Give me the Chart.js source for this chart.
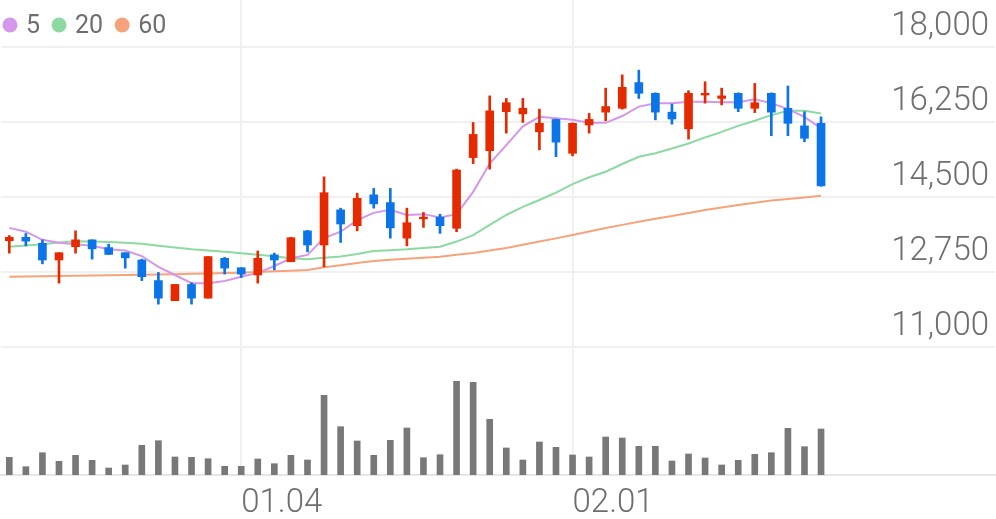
<!DOCTYPE html>
<html>
<head>
<meta charset="utf-8" />
<title>Price Chart</title>
<script src="https://cdn.jsdelivr.net/npm/chart.js@4.4.1/dist/chart.umd.min.js"></script>
<style>
    html, body { margin: 0; padding: 0; background: #ffffff; }
    .chartContainer { width: 996px; height: 519px; position: relative; }
</style>
</head>
<body>
<div class="chartContainer"><canvas id="myChart"></canvas></div>
<script>
// trading days shown on the chart (MM.DD)
const dates = ['12.10','12.11','12.14','12.15','12.16','12.17','12.18','12.21','12.22','12.23',
               '12.24','12.28','12.29','12.30','01.04','01.05','01.06','01.07','01.08','01.11',
               '01.12','01.13','01.14','01.15','01.18','01.19','01.20','01.21','01.22','01.25',
               '01.26','01.27','01.28','01.29','02.01','02.02','02.03','02.04','02.05','02.08',
               '02.09','02.10','02.15','02.16','02.17','02.18','02.19','02.22','02.23','02.24'];
const emptySlots = 10;
const tickLabels = ['01.04', '02.01'];
const priceTicks = [11000, 12750, 14500, 16250, 18000];

const opens  = [13480,13560,13420,13030,13340,13500,13320,13200,13030,12550,
                12080,12460,12140,13070,12850,12680,13150,12990,13710,13380,
                14200,13830,14550,14370,13540,13990,14030,13770,15420,15580,
                16490,16440,16020,16310,15520,16180,16480,16570,17170,16920,
                16480,16090,16880,16800,16920,16570,16920,16570,16160,16220];
const closes = [13560,13470,13030,13200,13500,13290,13160,13080,12640,12140,
                12460,12140,13110,12840,12700,13070,13030,13550,13380,14600,
                13870,14470,14340,13780,13900,14030,13830,15130,15960,16510,
                16700,16570,16220,15780,16220,16310,16610,17060,16920,16480,
                16320,16920,16920,16860,16570,16700,16480,16220,15870,14760];
const highs  = [13600,13650,13500,13200,13710,13500,13400,13200,13050,12740,
                12460,12500,13110,13090,12850,13240,13190,13560,13720,14970,
                14240,14590,14700,14700,14240,14140,14100,15150,16240,16860,
                16800,16800,16550,16320,16230,16450,17040,17350,17460,16930,
                16670,16980,17190,17040,16930,17150,16930,17090,16490,16370];
const lows   = [13190,13360,12940,12490,13190,13050,13160,12840,12550,12000,
                12080,12000,12140,12700,12620,12490,12800,12990,13220,12870,
                13440,13710,14240,13540,13360,13790,13650,13690,15280,15150,
                15990,16240,15600,15440,15460,15990,16280,16550,16800,16300,
                16200,15850,16690,16650,16490,16470,15930,15930,15790,14750];

// moving averages
const ma5  = [13780,13690,13500,13430,13400,13360,13280,13250,13120,12870,
              12680,12490,12490,12540,12640,12730,12890,13070,13150,13540,
              13690,13960,14130,14200,14080,14100,14020,14100,14620,15280,
              15710,16150,16370,16340,16300,16230,16230,16390,16610,16690,
              16690,16720,16720,16710,16710,16780,16690,16550,16370,16100];
const ma20 = [13340,13370,13400,13440,13470,13460,13450,13430,13410,13360,
              13320,13280,13250,13220,13190,13150,13120,13070,13050,13080,
              13110,13170,13240,13260,13280,13310,13340,13460,13610,13850,
              14080,14270,14430,14600,14800,14960,15090,15270,15440,15520,
              15630,15750,15890,16020,16160,16280,16410,16510,16510,16450];
const ma60 = [12640,12645,12650,12655,12660,12668,12675,12682,12688,12694,
              12700,12708,12716,12724,12733,12750,12766,12780,12797,12860,
              12910,12960,13007,13035,13060,13085,13107,13150,13193,13250,
              13310,13385,13460,13535,13613,13695,13777,13850,13923,13990,
              14057,14127,14197,14255,14313,14367,14420,14455,14490,14530];
const maNames  = ['5', '20', '60'];

// volume (thousand shares)
const volumes = [177, 83,223,137,197,147, 70,100,297,343,
                 180,177,163, 87, 87,160,113,197,150,797,
                 483,340,197,347,470,173,203,937,927,557,
                 270,150,330,277,200,180,380,370,287,287,
                 140,210,170,100,147,207,223,467,283,460];

const upColor = '#e52a00';
const downColor = '#0b74e8';
const maColors = ['#d497ea', '#8cd9a2', '#f6a37c'];
const textColor = '#6e6e6e';
const gridColor = '#f0f0f0';

const labels = dates.concat(new Array(emptySlots).fill(''));
const candleColors = opens.map((o, i) => closes[i] >= o ? upColor : downColor);

const legendPlugin = {
    id: 'maLegend',
    afterDraw(chart) {
        const ctx = chart.ctx;
        ctx.save();
        ctx.font = '400 25px Roboto';
        ctx.textBaseline = 'middle';
        let x = 10;
        maNames.forEach((name, i) => {
            ctx.fillStyle = maColors[i];
            ctx.beginPath();
            ctx.arc(x, 25, 7.5, 0, Math.PI * 2);
            ctx.fill();
            ctx.fillStyle = textColor;
            ctx.fillText(name, x + 16, 27);
            x += 16 + ctx.measureText(name).width + 19;
        });
        ctx.restore();
    }
};

var ctx = document.getElementById('myChart').getContext('2d');
var chart = new Chart(ctx, {
    type: 'bar',
    data: {
        labels: labels,
        datasets: [
            {
                label: 'body',
                data: opens.map((o, i) => [o, closes[i]]),
                backgroundColor: candleColors,
                barThickness: 8,
                grouped: false,
                order: 0
            },
            {
                label: 'wick',
                data: lows.map((l, i) => [l, highs[i]]),
                backgroundColor: candleColors,
                barThickness: 2,
                grouped: false,
                order: 1
            },
            { type: 'line', label: maNames[0], data: ma5, borderColor: maColors[0], borderWidth: 2, pointRadius: 0, order: 2 },
            { type: 'line', label: maNames[1], data: ma20, borderColor: maColors[1], borderWidth: 2, pointRadius: 0, order: 2 },
            { type: 'line', label: maNames[2], data: ma60, borderColor: maColors[2], borderWidth: 2, pointRadius: 0, order: 2 },
            {
                label: 'volume',
                data: volumes,
                yAxisID: 'yv',
                backgroundColor: '#787878',
                barThickness: 6,
                grouped: false,
                order: 3
            }
        ]
    },
    options: {
        responsive: true,
        maintainAspectRatio: false,
        animation: false,
        layout: { padding: { left: 1, right: 0, top: 0, bottom: 0 } },
        plugins: { legend: { display: false }, tooltip: { enabled: false } },
        scales: {
            x: {
                offset: true,
                grid: { offset: false, color: gridColor, lineWidth: 2, drawTicks: false },
                border: { display: true, color: '#e6e6e6', width: 2 },
                ticks: {
                    align: 'start', autoSkip: false, maxRotation: 0, padding: 9,
                    color: textColor, font: { family: 'Roboto', size: 33, weight: '300' }
                },
                afterBuildTicks: s => { s.ticks = s.ticks.filter(t => tickLabels.includes(labels[t.value])); },
                afterFit: s => { s.height = 44; s.paddingLeft = 0; s.paddingRight = 0; }
            },
            y: {
                position: 'right',
                min: 8013,
                max: 19097,
                afterBuildTicks: s => { s.ticks = priceTicks.map(v => ({ value: v })); },
                grid: { color: gridColor, lineWidth: 2, drawTicks: false },
                border: { display: false },
                ticks: {
                    mirror: true, padding: -6, labelOffset: -20,
                    color: textColor, font: { family: 'Roboto', size: 33, weight: '300' },
                    callback: v => v.toLocaleString('en-US')
                },
                afterFit: s => { s.width = 1; s.paddingTop = 0; s.paddingBottom = 0; }
            },
            yv: { display: false, min: 0, max: 4750 }
        }
    },
    plugins: [legendPlugin]
});
</script>
</body>
</html>
